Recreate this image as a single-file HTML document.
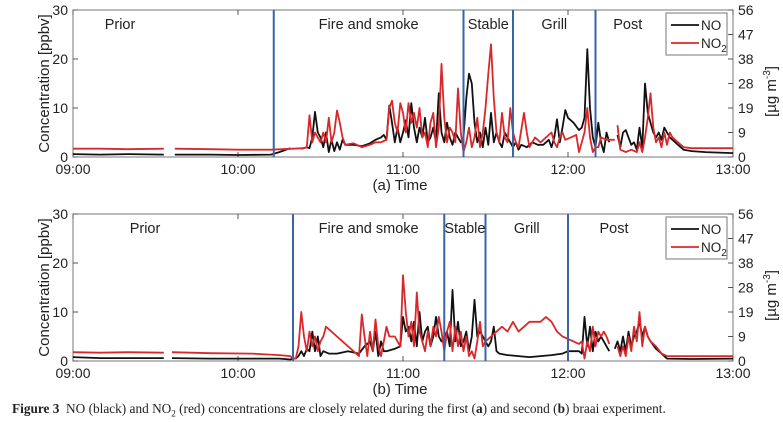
<!DOCTYPE html>
<html><head><meta charset="utf-8">
<style>
body{margin:0;background:#fff;}
svg{display:block;font-family:"Liberation Sans",Arial,sans-serif;}
.cap{position:absolute;left:12px;top:401px;font-family:"Liberation Serif",serif;font-size:13.3px;color:#222;white-space:nowrap;}
</style></head>
<body>
<div style="position:relative;width:783px;height:422px;overflow:hidden">
<svg id="chart" width="783" height="422"></svg>
<div class="cap"><b>Figure 3</b>&nbsp; NO (black) and NO<sub style="font-size:9px">2</sub> (red) concentrations are closely related during the first (<b>a</b>) and second (<b>b</b>) braai experiment.</div>
</div>
<script>
const xTickLabels=["09:00","10:00","11:00","12:00","13:00"];
const yTickLabels=[0,10,20,30];
const rightTickLabels=[0,9,19,28,38,47,56];
const phaseNames=["Prior","Fire and smoke","Stable","Grill","Post"];
const phaseBoundsA=[0,73,142,160,190,240];
const phaseBoundsB=[0,80,135,150,180,240];
const noA=[[0,.6],[10,.5],[20,.6],[33,.5],[34,null],[37,.5],[50,.5],[60,.4],[72,.5],[75,1],[79,1.8],[80,null],[83,1.7],[85,2],[86,1.8],[87,4],[88,9.2],[89,5],[90,4],[91,2],[92,5],[93,1],[94,3.5],[95,1.2],[96,3],[97,1.5],[98,3.5],[99,2.5],[102,2.5],[105,2.2],[108,2.8],[110,3.5],[112,4],[113,4.5],[114,3.5],[115,10.5],[116,7],[117,3],[118,6],[119,3],[120,5],[121,7.5],[122,4],[123,11],[124,6],[125,3],[126,6],[127,4],[128,8],[129,3],[130,4],[131,6],[132,3],[133,13],[134,5],[135,3],[136,7],[137,4],[138,2.5],[139,5],[140,4],[141,3],[142,4],[143,12],[144,17],[145,15],[146,7],[147,3],[148,5],[149,2],[150,6],[151,2.5],[152,9],[153,3],[154,5],[155,3],[156,2],[157,5],[158,4],[159,3],[160,2],[161,3],[162,1.5],[163,2.5],[165,2],[167,3],[169,2.5],[171,2.5],[173,3.5],[174,2],[175,4],[176,7.7],[177,3],[178,6],[179,9.6],[180,8],[182,7],[184,5.5],[185,6],[186,8],[187,22],[188,10],[189,4],[190,2],[191,7],[192,3],[193,1],[194,5],[195,3],[196,null],[198,4.5],[199,2],[200,5],[201,5.5],[202,4],[203,2.5],[204,3],[205,1.5],[206,6],[207,2],[208,15],[209,9],[210,7],[211,5],[212,4],[213,5],[214,3.5],[215,6],[216,5],[217,4],[218,3.5],[220,2.5],[222,1.5],[225,1.2],[230,1],[240,.8]];
const no2A=[[0,1.7],[10,1.7],[20,1.6],[33,1.7],[34,null],[37,1.7],[50,1.6],[60,1.5],[72,1.5],[80,1.7],[84,1.8],[85,2],[86,8.5],[87,3],[88,5],[89,4],[90,3],[91,5],[92,3],[93,8],[94,3],[95,5],[96,9.5],[97,7],[98,4],[99,2.5],[102,2.8],[105,2],[108,2.5],[110,3],[112,3],[114,3.5],[115,10],[116,11.5],[117,7],[118,5],[119,11],[120,9],[121,5],[122,11],[123,7],[124,9],[125,6],[126,10],[127,4],[128,5],[129,2],[130,7],[131,9],[132,2],[133,6],[134,19],[135,8],[136,3],[137,6],[138,5],[139,3],[140,14],[141,5],[142,1],[143,3],[144,6],[145,2],[146,4],[147,8],[148,2],[149,5],[150,10],[151,17],[152,23],[153,12],[154,5],[155,3],[156,9],[157,4],[158,3],[159,10],[160,5],[161,3],[162,2],[164,9],[165,5],[166,2],[168,4],[170,3],[172,4],[174,5],[175,3],[176,2],[177,4],[178,5],[179,3.5],[181,4],[183,4.5],[184,1],[185,3],[186,5],[187,10],[188,4],[189,1],[190,2],[191,2],[192,4],[194,3.5],[197,3.5],[197.5,null],[198,6.5],[199,1.5],[201,1],[203,1.5],[205,1],[206,3],[207,1],[208,4],[209,8],[210,13],[211,6],[212,3],[213,4],[214,2],[215,5],[216,2.5],[217,5],[218,4],[220,3],[222,2],[225,1.8],[230,1.8],[240,1.8]];
const noB=[[0,.8],[10,.6],[20,.6],[33,.6],[34,null],[36,.6],[50,.5],[65,.5],[75,.5],[79,.3],[80,.5],[81,.5],[82,1],[83,2],[84,1],[85,2.5],[86,2],[87,6],[88,2],[89,5],[90,1],[91,2],[93,1.5],[96,1.5],[100,2],[104,1.5],[106,3],[108,4],[109,2],[110,6],[111,1],[112,4],[113,2],[114,2],[117,2.5],[119,3],[120,9],[121,6],[122,7],[123,4],[124,8],[125,3],[126,10],[127,4],[128,6],[129,7],[130,3],[131,5],[132,9],[133,5],[134,4],[135,5],[136,6],[137,3],[138,14.5],[139,4],[140,8],[141,3],[142,4],[143,6],[144,2],[145,5],[146,12.5],[147,5],[148,6],[149,5],[150,4],[151,3],[152,4],[153,7],[154,2],[155,1.5],[158,1.2],[162,1],[166,.8],[170,1],[174,1.2],[178,1.5],[180,2],[182,2],[184,2],[185,1.5],[186,9],[187,3],[188,7],[189,2],[190,6],[191,4],[192,5],[193,4],[194,3],[195,2],[196,null],[197,2.5],[198,4],[199,2],[200,5],[201,2],[202,6],[203,3],[204,5],[205,6],[206,8],[207,5],[208,7],[209,5],[210,4],[212,2.5],[214,1.5],[216,.5],[225,.4],[240,.5]];
const no2B=[[0,1.8],[10,1.7],[20,1.8],[33,1.7],[34,null],[36,1.8],[50,1.6],[65,1.5],[75,1.2],[79,1],[80,.5],[81,.5],[82,3],[83,10],[84,5],[85,2],[86,6],[87,3],[88,5],[89,2],[90,4],[91,5],[92,7],[94,6],[96,5],[98,4],[100,3],[102,2],[104,1],[105,9.5],[106,5],[107,1],[108,6],[109,2],[110,8.5],[111,3],[112,1],[113,4],[114,7],[115,5],[117,5],[118,4],[119,3],[120,17.5],[121,10],[122,5],[123,8],[124,3],[125,14],[126,6],[127,4],[128,2],[129,6],[130,3],[131,7],[132,5],[133,9],[134,6],[135,2],[136,6],[137,8],[138,2],[139,7],[140,3],[141,6],[142,2],[143,5],[144,1],[145,2],[146,.5],[147,4],[148,8],[149,3],[150,4],[152,5],[154,6],[156,7],[158,6],[160,8],[162,6],[164,7],[166,8],[168,8],[170,8],[172,9],[174,8],[176,6],[178,5],[180,4.5],[182,4],[184,3.5],[185,4],[186,.5],[187,4],[188,2],[189,7],[190,3],[191,6],[192,5],[193,6],[194,5],[195,3.5],[196,null],[198,3],[199,1],[200,3],[201,1],[202,5],[203,2],[204,7],[205,4],[206,10],[207,3],[208,7],[209,5],[210,4],[212,3],[214,1.5],[216,1],[220,1],[240,1]];

const NS="http://www.w3.org/2000/svg";
const svg=document.getElementById('chart');
const X0=73,X1=733;
function xs(m){return X0+(X1-X0)*m/240;}
function mk(tag,attrs,parent){const e=document.createElementNS(NS,tag);for(const k in attrs)e.setAttribute(k,attrs[k]);(parent||svg).appendChild(e);return e;}
function txt(s,attrs,parent){const e=mk('text',attrs,parent);e.textContent=s;return e;}

function panel(top,bot,bounds,no,no2,letter){
  const g=mk('g',{});
  
  
  const ys=v=>bot-(bot-top)*v/30;
  const r=mk('rect',{x:X0,y:top,width:X1-X0,height:bot-top,fill:'none',stroke:'#777','stroke-width':1},g);
  
  
  xTickLabels.forEach((l,i)=>{const x=xs(i*60);
    mk('line',{x1:x,x2:x,y1:bot,y2:bot-5,stroke:'#555'},g);
    mk('line',{x1:x,x2:x,y1:top,y2:top+5,stroke:'#555'},g);
    const t=txt(l,{x:x,y:bot+17,'font-size':14,'text-anchor':'middle',fill:'#222'},g);
    
    });
  yTickLabels.forEach(v=>{const y=ys(v);
    mk('line',{x1:X0,x2:X0+5,y1:y,y2:y,stroke:'#555'},g);
    const t=txt(String(v),{x:X0-5,y:y+5,'font-size':14,'text-anchor':'end',fill:'#222'},g);
    
    });
  rightTickLabels.forEach((v,i)=>{const y=bot-(bot-top)*i/6;
    mk('line',{x1:X1-5,x2:X1,y1:y,y2:y,stroke:'#555'},g);
    const t=txt(String(v),{x:X1+5,y:y+5,'font-size':14,fill:'#222'},g);
    
    });
  const yt=txt('Concentration [ppbv]',{x:0,y:0,'font-size':15,'text-anchor':'middle',fill:'#222',transform:`translate(49,${(top+bot)/2}) rotate(-90)`},g);
  
  
  const rt=mk('text',{x:0,y:0,'font-size':15,'text-anchor':'middle',fill:'#222',transform:`translate(776,${(top+bot)/2+8}) rotate(-90)`},g);
  rt.innerHTML='[µg m<tspan dy="-6" font-size="10">-3</tspan><tspan dy="6">]</tspan>';
  
  
  const xt=txt('('+letter+')   Time',{x:400,y:bot+33,'font-size':15,'text-anchor':'middle',fill:'#222','xml:space':'preserve'},g);
  
  
  function path(data,color,name){let d='',pen=false;
    data.forEach(p=>{if(p[1]===null){pen=false;return;}d+=(pen?'L':'M')+xs(p[0]).toFixed(1)+','+ys(p[1]).toFixed(1);pen=true;});
    const e=mk('path',{d:d,fill:'none',stroke:color,'stroke-width':1.8,'stroke-linejoin':'round'},g);
    
    }
  path(no,'#111','no-line');
  path(no2,'#d9282b','no2-line');
  for(let i=1;i<bounds.length-1;i++){const x=xs(bounds[i]);
    const l=mk('line',{x1:x,x2:x,y1:top,y2:bot,stroke:'#3a64a8','stroke-width':2},g);
    
    }
  phaseNames.forEach((n,i)=>{let cx=(xs(bounds[i])+xs(bounds[i+1]))/2;
    if(i==0)cx=(letter=='b'?145:120);
    if(i==4)cx=(xs(bounds[4])+660)/2;
    const t=txt(n,{x:cx,y:top+19,'font-size':14.5,'text-anchor':'middle',fill:'#222'},g);
    
    });
  const lg=mk('g',{},g);
  
  
  mk('rect',{x:666,y:top+3,width:61,height:42,fill:'#fff',stroke:'#777'},lg);
  mk('line',{x1:671,x2:699,y1:top+15,y2:top+15,stroke:'#111','stroke-width':1.8},lg);
  mk('line',{x1:671,x2:699,y1:top+33,y2:top+33,stroke:'#d9282b','stroke-width':1.8},lg);
  txt('NO',{x:701,y:top+20,'font-size':13.5,fill:'#222'},lg);
  const t2=mk('text',{x:701,y:top+38,'font-size':13.5,fill:'#222'},lg);
  t2.innerHTML='NO<tspan dy="4" font-size="10">2</tspan>';
}
panel(10,157,phaseBoundsA,noA,no2A,'a');
panel(214,361,phaseBoundsB,noB,no2B,'b');
</script>
</body></html>
